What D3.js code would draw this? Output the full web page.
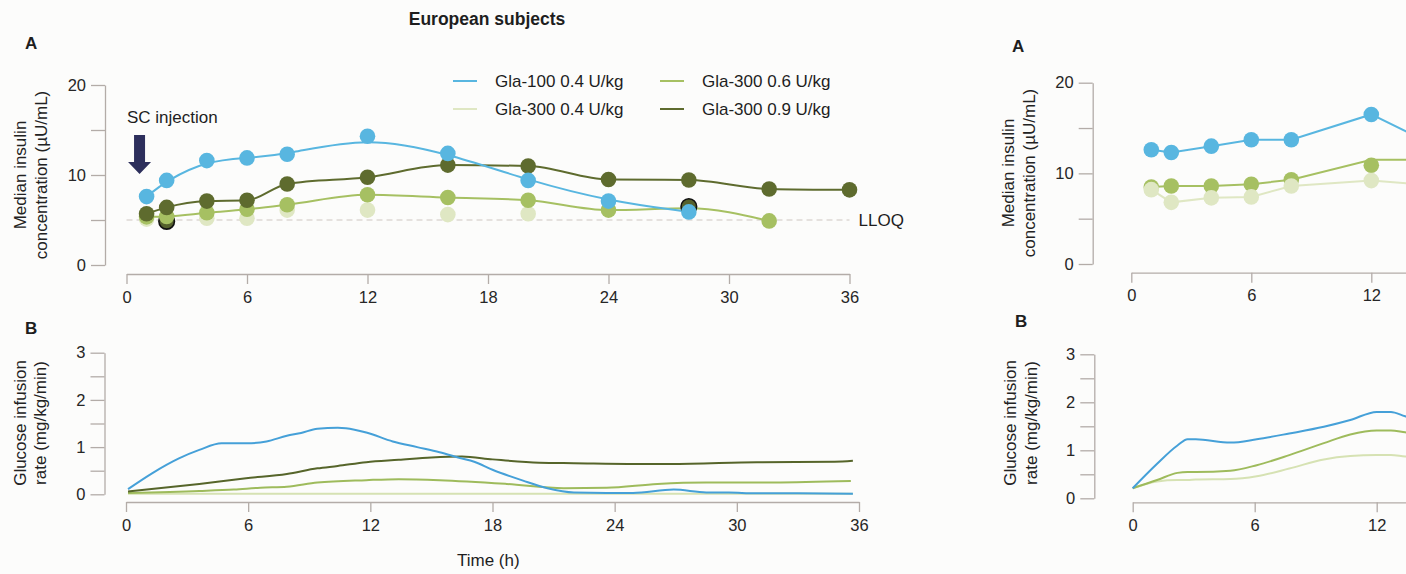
<!DOCTYPE html>
<html>
<head>
<meta charset="utf-8">
<script src="https://cdn.jsdelivr.net/npm/d3@7"></script>
<style>
body { margin: 0; background: #fcfcfb; }
svg { display: block; font-family: Arial, "Liberation Sans", sans-serif; }
.axis path, .axis line { stroke: #b3aca8; stroke-width: 1.3; }
.axis text { font-size: 16.5px; fill: #262626; font-family: Arial, "Liberation Sans", sans-serif; }
</style>
</head>
<body>
<script>
// tick labels
let hourTicks = [0, 6, 12, 18, 24, 30, 36];
let legendNames = ["Gla-100 0.4 U/kg", "Gla-300 0.4 U/kg", "Gla-300 0.6 U/kg", "Gla-300 0.9 U/kg"];

// European subjects - median insulin (µU/mL)
let g100Hours = [1, 2, 4, 6, 8, 12, 16, 20, 24, 28];
let g100Ins = [7.6, 9.4, 11.6, 11.9, 12.3, 14.3, 12.4, 9.4, 7.1, 5.9];
let g304Hours = [1, 2, 4, 6, 8, 12, 16, 20];
let g304Ins = [5.1, 5.0, 5.2, 5.2, 6.1, 6.1, 5.6, 5.7];
let g306Hours = [1, 2, 4, 6, 8, 12, 16, 20, 24, 28, 32];
let g306Ins = [5.35, 5.4, 5.8, 6.2, 6.7, 7.8, 7.5, 7.2, 6.1, 6.3, 4.9];
let g309Hours = [1, 2, 4, 6, 8, 12, 16, 20, 24, 28, 32, 36];
let g309Ins = [5.7, 6.4, 7.1, 7.2, 9.0, 9.75, 11.1, 11.0, 9.5, 9.45, 8.45, 8.35];
let hiddenHours = [2, 28];
let hiddenIns = [4.85, 6.5];
let lloq = 5;

// European subjects - glucose infusion rate (mg/kg/min)
let gir100Hours = [0.1, 1.3, 2.6, 3.6, 4.7, 5.9, 6.9, 7.9, 8.6, 9.4, 10.4, 10.8, 11.8, 13.1, 14.3, 15.4, 16.4, 17.1, 18, 19.5, 20.7, 22, 23.6, 24.9, 26.9, 28.5, 29.6, 30.9, 33, 35.7];
let gir100 = [0.11, 0.45, 0.76, 0.94, 1.08, 1.08, 1.12, 1.24, 1.30, 1.39, 1.41, 1.40, 1.31, 1.12, 1.0, 0.89, 0.77, 0.69, 0.52, 0.29, 0.13, 0.04, 0.03, 0.03, 0.1, 0.04, 0.04, 0.02, 0.02, 0.01];
let gir304Hours = [0.1, 12, 24, 35.7];
let gir304 = [0.01, 0.01, 0.01, 0.01];
let gir306Hours = [0.1, 3.6, 5.3, 6.6, 7.9, 9.4, 11.8, 13.4, 15.4, 18.7, 21.5, 23.6, 26.1, 28.5, 31.8, 35.6];
let gir306 = [0.03, 0.07, 0.10, 0.14, 0.16, 0.25, 0.30, 0.32, 0.30, 0.22, 0.13, 0.14, 0.22, 0.25, 0.25, 0.28];
let gir309Hours = [0.1, 3.6, 5.9, 7.9, 9.4, 10.4, 11.8, 13.4, 15, 16.5, 18, 20.3, 22, 26.7, 31, 34.8, 35.7];
let gir309 = [0.06, 0.22, 0.34, 0.43, 0.55, 0.60, 0.68, 0.73, 0.78, 0.80, 0.74, 0.67, 0.66, 0.64, 0.68, 0.69, 0.71];

// second cohort (cut at the right edge) - insulin
let rHours = [1, 2, 4, 6, 8, 12, 16];
let r100Ins = [12.6, 12.3, 13.0, 13.7, 13.7, 16.5, 12.2];
let r304Ins = [8.2, 6.8, 7.3, 7.4, 8.6, 9.2, 8.5];
let r306Ins = [8.5, 8.6, 8.6, 8.8, 9.3, 10.9];
let r306LineIns = [8.5, 8.6, 8.6, 8.8, 9.3, 11.5, 11.5];
let rTicks = [0, 6, 12];

// second cohort - glucose infusion rate
let rgirHours = [0, 1.2, 2.2, 2.7, 3.1, 4.8, 6.1, 7.7, 9.4, 10.7, 12, 12.7, 13.4, 14];
let rgir100 = [0.21, 0.72, 1.1, 1.23, 1.23, 1.16, 1.23, 1.35, 1.49, 1.63, 1.8, 1.8, 1.71, 1.65];
let rgir306 = [0.21, 0.38, 0.53, 0.55, 0.55, 0.575, 0.69, 0.9, 1.15, 1.33, 1.41, 1.41, 1.375, 1.35];
let rgir304 = [0.21, 0.35, 0.38, 0.38, 0.39, 0.40, 0.46, 0.62, 0.81, 0.88, 0.9, 0.9, 0.87, 0.86];

let col = {g100: "#58b6e0", g304: "#dfe7c3", g306: "#a6c062", g309: "#5e6b2e"};
let girCol = {g100: "#45a0d8", g304: "#d6e2b3", g306: "#9ebb5c", g309: "#56652a"};

let svg = d3.select("body").append("svg").attr("width", 1406).attr("height", 574);

// build a panel: scales + detached axes
function makePanel(p, yMax, minorStep, labelStep, xTicks) {
	let x = d3.scaleLinear().domain([0, 36]).range([p.x0, p.x1]);
	let y = d3.scaleLinear().domain([0, yMax]).range([p.yBot, p.yTop]);
	svg.append("g").attr("class", "axis")
		.attr("transform", "translate(0," + p.xAxisY + ")")
		.call(d3.axisBottom(x).tickValues(xTicks || hourTicks).tickSize(10).tickSizeOuter(0).tickPadding(7));
	svg.append("g").attr("class", "axis")
		.attr("transform", "translate(" + p.yAxisX + ",0)")
		.call(d3.axisLeft(y).tickValues(d3.range(0, yMax + 0.001, minorStep))
			.tickSize(14).tickSizeOuter(0).tickPadding(5)
			.tickFormat(d => Math.abs(d % labelStep) < 1e-6 ? d : ""));
	return {x: x, y: y};
}

function drawLine(sc, hours, vals, color, curve, width) {
	let line = d3.line().x(d => sc.x(d[0])).y(d => sc.y(d[1])).curve(curve);
	svg.append("path").datum(d3.zip(hours, vals))
		.attr("d", line).attr("fill", "none")
		.attr("stroke", color).attr("stroke-width", width || 2);
}

function drawDots(sc, hours, vals, color, stroke) {
	svg.append("g").selectAll("circle").data(d3.zip(hours, vals)).join("circle")
		.attr("cx", d => sc.x(d[0])).attr("cy", d => sc.y(d[1])).attr("r", 7.8)
		.attr("fill", color)
		.attr("stroke", stroke || "none").attr("stroke-width", 1.6);
}

function yLabel(lines, xs, cy) {
	lines.forEach((t, i) => {
		svg.append("text").attr("transform", "translate(" + xs[i] + "," + cy + ") rotate(-90)")
			.attr("text-anchor", "middle").attr("font-size", 17).attr("fill", "#222").text(t);
	});
}

function label(txt, x, y, opts) {
	opts = opts || {};
	return svg.append("text").attr("x", x).attr("y", y)
		.attr("font-size", opts.size || 17)
		.attr("font-weight", opts.bold ? "bold" : "normal")
		.attr("text-anchor", opts.anchor || "start")
		.attr("fill", "#1e1e1e").text(txt);
}

//////////////////////////////////////////////
// Left panel A //////////////////////////////
//////////////////////////////////////////////
let pA = makePanel({x0: 126.5, x1: 849.5, yAxisX: 105, xAxisY: 274, yTop: 85, yBot: 265}, 20, 5, 10);

// LLOQ reference line
svg.append("line")
	.attr("x1", pA.x(0)).attr("x2", pA.x(36))
	.attr("y1", pA.y(lloq)).attr("y2", pA.y(lloq))
	.attr("stroke", "#cdc6c2").attr("stroke-width", 1.2).attr("stroke-dasharray", "6,4");
label("LLOQ", pA.x(36) + 9, pA.y(lloq) + 6);

drawLine(pA, g306Hours, g306Ins, col.g306, d3.curveMonotoneX);
drawLine(pA, g309Hours, g309Ins, col.g309, d3.curveMonotoneX);
drawLine(pA, g100Hours, g100Ins, col.g100, d3.curveBasis);
drawDots(pA, g304Hours, g304Ins, col.g304);
drawDots(pA, hiddenHours.slice(0, 1), hiddenIns.slice(0, 1), "#55612c", "#111");
drawDots(pA, g306Hours, g306Ins, col.g306);
drawDots(pA, hiddenHours.slice(1), hiddenIns.slice(1), "#55612c", "#111");
drawDots(pA, g309Hours, g309Ins, col.g309);
drawDots(pA, g100Hours, g100Ins, col.g100);

// SC injection arrow
label("SC injection", 127, 123);
let ax = pA.x(0.65);
svg.append("path")
	.attr("d", "M" + (ax - 5.5) + ",135 H" + (ax + 5.5) + " V162 H" + (ax + 11.5) +
		" L" + ax + ",174 L" + (ax - 11.5) + ",162 H" + (ax - 5.5) + " Z")
	.attr("fill", "#2d2f5c");

// legend
let legendPos = [[453, 81], [453, 109], [660, 81], [660, 109]];
let legendCols = [col.g100, col.g304, col.g306, col.g309];
legendNames.forEach((n, i) => {
	let p = legendPos[i];
	svg.append("line").attr("x1", p[0]).attr("x2", p[0] + 24).attr("y1", p[1]).attr("y2", p[1])
		.attr("stroke", legendCols[i]).attr("stroke-width", 2);
	label(n, p[0] + 42, p[1] + 6, {size: 17});
});

//////////////////////////////////////////////
// Left panel B //////////////////////////////
//////////////////////////////////////////////
let pB = makePanel({x0: 126, x1: 859, yAxisX: 104.5, xAxisY: 502, yTop: 352.7, yBot: 494.3}, 3, 0.5, 1);
drawLine(pB, gir304Hours, gir304, girCol.g304, d3.curveMonotoneX);
drawLine(pB, gir306Hours, gir306, girCol.g306, d3.curveMonotoneX);
drawLine(pB, gir309Hours, gir309, girCol.g309, d3.curveMonotoneX);
drawLine(pB, gir100Hours, gir100, girCol.g100, d3.curveMonotoneX);

//////////////////////////////////////////////
// Right panel A (cut off) ///////////////////
//////////////////////////////////////////////
let rA = makePanel({x0: 1131.3, x1: 1851.3, yAxisX: 1092.7, xAxisY: 272.7, yTop: 82.7, yBot: 264}, 20, 5, 10, rTicks);
drawLine(rA, rHours, r304Ins, col.g304, d3.curveLinear);
drawLine(rA, rHours, r306LineIns, col.g306, d3.curveLinear);
drawLine(rA, rHours, r100Ins, col.g100, d3.curveLinear);
drawDots(rA, rHours.slice(0, r306Ins.length), r306Ins, col.g306);
drawDots(rA, rHours, r304Ins, col.g304);
drawDots(rA, rHours, r100Ins, col.g100);

//////////////////////////////////////////////
// Right panel B (cut off) ///////////////////
//////////////////////////////////////////////
let rB = makePanel({x0: 1132.7, x1: 1864.7, yAxisX: 1094.3, xAxisY: 502.3, yTop: 354.3, yBot: 498.3}, 3, 0.5, 1, rTicks);
drawLine(rB, rgirHours, rgir304, girCol.g304, d3.curveMonotoneX);
drawLine(rB, rgirHours, rgir306, girCol.g306, d3.curveMonotoneX);
drawLine(rB, rgirHours, rgir100, girCol.g100, d3.curveMonotoneX);

// titles and axis labels
label("European subjects", 487, 25, {bold: true, anchor: "middle", size: 17.5});
label("A", 25, 49, {bold: true, size: 17});
label("B", 25, 334, {bold: true, size: 17});
label("A", 1012, 52, {bold: true, size: 17});
label("B", 1015, 327, {bold: true, size: 17});
label("Time (h)", 457, 566);
yLabel(["Median insulin", "concentration (µU/mL)"], [25.5, 46.5], 175);
yLabel(["Glucose infusion", "rate (mg/kg/min)"], [25.5, 46], 423);
yLabel(["Median insulin", "concentration (µU/mL)"], [1014, 1035], 173);
yLabel(["Glucose infusion", "rate (mg/kg/min)"], [1016, 1036.5], 423);
</script>
</body>
</html>
